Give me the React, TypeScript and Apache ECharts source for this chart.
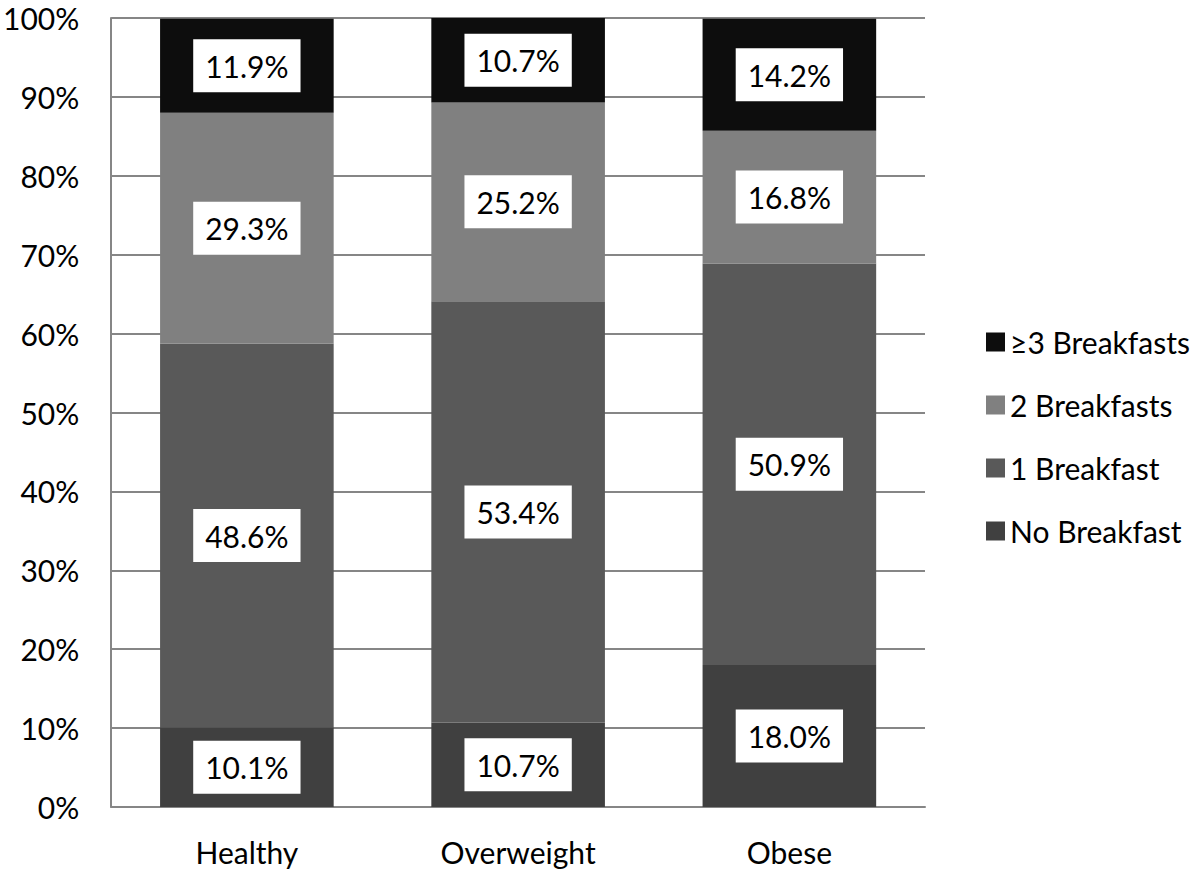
import React, { useEffect, useRef } from "react";
import * as echarts from "echarts";

const categories = ["Healthy", "Overweight", "Obese"];
const seriesNames = ["No Breakfast", "1 Breakfast", "2 Breakfasts", "≥3 Breakfasts"];
const noBreakfast = [10.1, 10.7, 18.0];
const oneBreakfast = [48.6, 53.4, 50.9];
const twoBreakfasts = [29.3, 25.2, 16.8];
const threePlus = [11.9, 10.7, 14.2];
const colors = ["#404040", "#595959", "#808080", "#0d0d0d"];
const FONT = "Lato";
const FS = 30;

export default function App() {
  const ref = useRef<HTMLDivElement>(null);
  useEffect(() => {
    if (!ref.current) return;
    const chart = echarts.init(ref.current, null, { renderer: "svg" });
    const data = [noBreakfast, oneBreakfast, twoBreakfasts, threePlus];
    chart.setOption({
      animation: false,
      backgroundColor: "#ffffff",
      textStyle: { fontFamily: FONT },
      grid: { left: 111, right: 275, top: 18, bottom: 63 },
      legend: {
        orient: "vertical",
        left: 981,
        top: 322,
        itemWidth: 19,
        itemHeight: 19,
        itemGap: 33,
        icon: "rect",
        data: [...seriesNames].reverse(),
        textStyle: { fontSize: FS, color: "#000", fontFamily: FONT },
      },
      xAxis: {
        type: "category",
        data: categories,
        axisLine: { lineStyle: { color: "#868686", width: 2 } },
        axisTick: { show: false },
        axisLabel: { fontSize: FS, color: "#000", margin: 30, fontFamily: FONT },
      },
      yAxis: {
        type: "value",
        min: 0,
        max: 100,
        interval: 10,
        axisLine: { show: true, lineStyle: { color: "#868686", width: 2 } },
        axisTick: { show: false },
        splitLine: { lineStyle: { color: "#868686", width: 2 } },
        axisLabel: { fontSize: FS, color: "#000", margin: 32, formatter: "{value}%", fontFamily: FONT },
      },
      series: seriesNames.map((name, i) => ({
        name,
        type: "bar",
        stack: "total",
        barWidth: "64%",
        data: data[i],
        itemStyle: { color: colors[i] },
        label: {
          show: true,
          position: "inside",
          formatter: (p: any) => p.value.toFixed(1) + "%",
          backgroundColor: "#ffffff",
          color: "#000",
          fontSize: FS,
          lineHeight: 31,
          fontFamily: FONT,
          padding: [11, 12, 11, 12],
        },
      })),
    });
    return () => chart.dispose();
  }, []);
  return (
    <div
      ref={ref}
      style={{ position: "fixed", left: 0, top: 0, width: 1200, height: 870 }}
    />
  );
}
